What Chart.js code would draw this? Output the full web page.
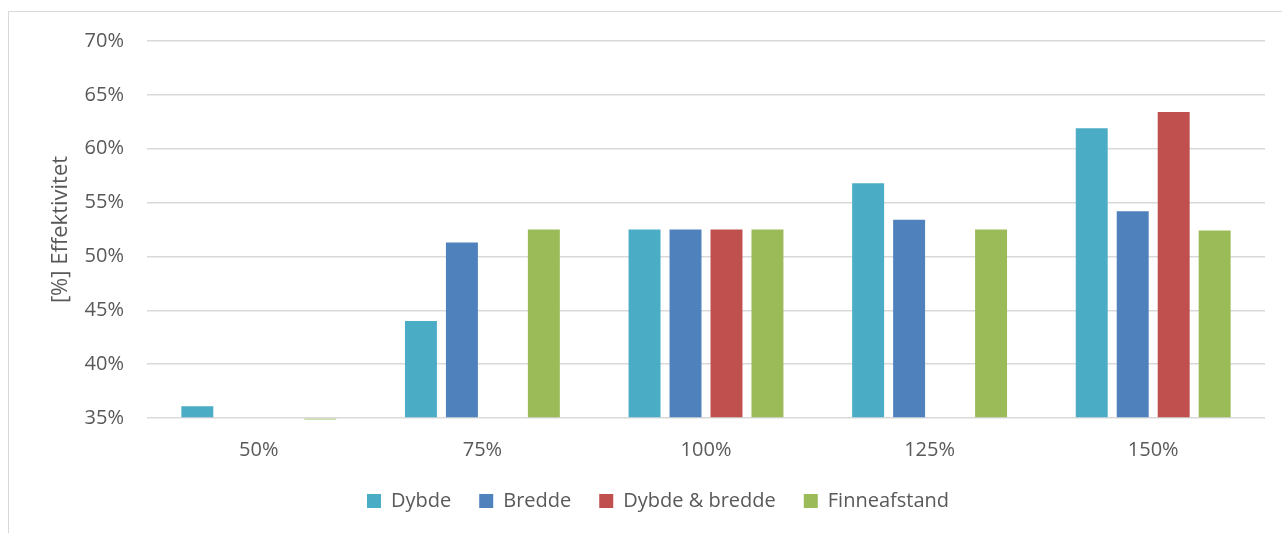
<!DOCTYPE html>
<html>
<head>
<meta charset="utf-8">
<script src="https://cdn.jsdelivr.net/npm/chart.js@4/dist/chart.umd.min.js"></script>
<style>
  html, body { margin: 0; padding: 0; background: #fff; overflow: hidden; width: 1282px; height: 533px; }
  #frame { position: absolute; left: 8px; top: 11px; width: 1298px; height: 560px; border: 1px solid #d9d9d9; background: #fff; }
  canvas { display: block; }
</style>
</head>
<body>
<div id="frame"><canvas id="c" width="1298" height="560"></canvas></div>
<script>
// Categories (relative size) and efficiency per parameter series, in percent
const categories = ['50%', '75%', '100%', '125%', '150%'];
const dybde = [36.1, 44.0, 52.5, 56.8, 61.9];
const bredde = [null, 51.3, 52.5, 53.4, 54.2];
const dybdeOgBredde = [null, null, 52.5, null, 63.4];
const finneafstand = [34.85, 52.5, 52.5, 52.5, 52.4];
const yTickValues = [35, 40, 45, 50, 55, 60, 65, 70];
const yTitle = '[%] Effektivitet';

const yMin = yTickValues[0];
const yMax = yTickValues[yTickValues.length - 1];
const FONT = '"Open Sans", "Noto Sans", sans-serif';
const TEXT = '#595959';

// Rotated y-axis title, centred on the plot area
const axisTitlePlugin = {
  id: 'axisTitle',
  afterDraw(chart) {
    const { ctx, chartArea } = chart;
    ctx.save();
    ctx.translate(52, (chartArea.top + chartArea.bottom) / 2);
    ctx.rotate(-Math.PI / 2);
    ctx.font = '22px ' + FONT;
    ctx.fillStyle = TEXT;
    ctx.textAlign = 'center';
    ctx.textBaseline = 'middle';
    ctx.fillText(yTitle, 0, 0);
    ctx.restore();
  }
};

const series = [
  { label: 'Dybde', data: dybde, color: '#4BACC6' },
  { label: 'Bredde', data: bredde, color: '#4F81BD' },
  { label: 'Dybde & bredde', data: dybdeOgBredde, color: '#C0504D' },
  { label: 'Finneafstand', data: finneafstand, color: '#9BBB59' }
];

new Chart(document.getElementById('c'), {
  type: 'bar',
  data: {
    labels: categories,
    datasets: series.map(s => ({
      label: s.label,
      data: s.data,
      base: yMin,
      backgroundColor: s.color,
      borderWidth: 0,
      clip: false,
      categoryPercentage: 0.733,
      barPercentage: 0.78
    }))
  },
  options: {
    responsive: false,
    animation: false,
    layout: { padding: { top: 29, right: 42, left: 42, bottom: 51 } },
    scales: {
      x: {
        afterFit(scale) { scale.height = 45; scale.paddingLeft = 0; scale.paddingRight = 0; },
        grid: { display: false, drawTicks: false },
        border: { display: false },
        ticks: { color: TEXT, font: { family: FONT, size: 20 }, padding: 20 }
      },
      y: {
        min: yMin,
        max: yMax,
        afterBuildTicks(scale) { scale.ticks = yTickValues.map(v => ({ value: v })); },
        afterFit(scale) { scale.width = 96; scale.paddingTop = 0; scale.paddingBottom = 0; },
        grid: { color: '#d9d9d9', lineWidth: 1.5, drawTicks: false },
        border: { display: false },
        ticks: { color: TEXT, font: { family: FONT, size: 20 }, padding: 23, callback: v => v + '%' }
      }
    },
    plugins: {
      legend: {
        position: 'bottom',
        labels: {
          color: TEXT,
          font: { family: FONT, size: 20 },
          boxWidth: 14,
          boxHeight: 14,
          padding: 28
        }
      },
      tooltip: { enabled: false }
    }
  },
  plugins: [axisTitlePlugin]
});
</script>
</body>
</html>
